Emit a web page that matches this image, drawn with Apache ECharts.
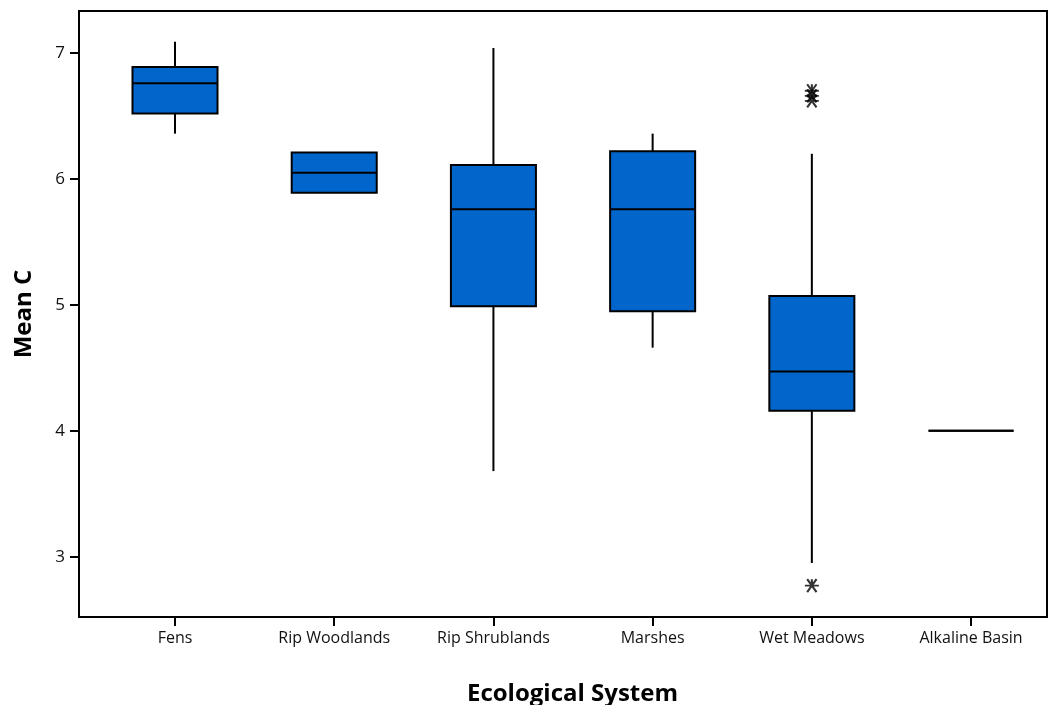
<!DOCTYPE html>
<html>
<head>
<meta charset="utf-8">
<script src="https://cdn.jsdelivr.net/npm/echarts@6/dist/echarts.min.js"></script>
<style>
  html, body { margin: 0; padding: 0; background: #fff; }
  #main { width: 1059px; height: 705px; }
</style>
</head>
<body>
<div id="main"></div>
<script>
// categories and box statistics
const categories = ['Fens', 'Rip Woodlands', 'Rip Shrublands', 'Marshes', 'Wet Meadows', 'Alkaline Basin'];
const whiskerLow = [6.36, 5.89, 3.68, 4.66, 2.95, 4.0];
const q1 = [6.52, 5.89, 4.99, 4.95, 4.16, 4.0];
const median = [6.76, 6.05, 5.76, 5.76, 4.47, 4.0];
const q3 = [6.89, 6.21, 6.11, 6.22, 5.07, 4.0];
const whiskerHigh = [7.09, 6.21, 7.04, 6.36, 6.20, 4.0];
// outliers: [category index, value]
const outliers = [[4, 6.70], [4, 6.66], [4, 6.62], [4, 2.77]];
const yTicks = [3, 4, 5, 6, 7];
const xTicks = categories.map((c, i) => i);

const boxData = categories.map((c, i) => [i, whiskerLow[i], q1[i], median[i], q3[i], whiskerHigh[i]]);

const chart = echarts.init(document.getElementById('main'));

function renderBox(params, api) {
  const x = api.value(0);
  const lo = api.value(1), b1 = api.value(2), med = api.value(3), b3 = api.value(4), hi = api.value(5);
  const half = api.size([1, 0])[0] * 0.267;
  const pLo = api.coord([x, lo]);
  const p1 = api.coord([x, b1]);
  const pm = api.coord([x, med]);
  const p3 = api.coord([x, b3]);
  const pHi = api.coord([x, hi]);
  const line = { stroke: '#000', lineWidth: 2 };
  const children = [];
  if (hi > b3) {
    children.push({ type: 'line', shape: { x1: pHi[0], y1: pHi[1], x2: p3[0], y2: p3[1] }, style: line });
  }
  if (lo < b1) {
    children.push({ type: 'line', shape: { x1: p1[0], y1: p1[1], x2: pLo[0], y2: pLo[1] }, style: line });
  }
  children.push({
    type: 'rect',
    shape: { x: p3[0] - half, y: p3[1], width: half * 2, height: p1[1] - p3[1] },
    style: { fill: '#0066cc', stroke: '#000', lineWidth: 2 }
  });
  children.push({ type: 'line', shape: { x1: pm[0] - half, y1: pm[1], x2: pm[0] + half, y2: pm[1] }, style: line });
  return { type: 'group', children: children };
}

chart.setOption({
  animation: false,
  grid: {
    left: 79, right: 12, top: 11, bottom: 88,
    containLabel: false,
    outerBoundsMode: 'none',
    show: true, borderColor: '#000', borderWidth: 2
  },
  xAxis: {
    type: 'value',
    min: -0.603,
    max: 5.477,
    splitLine: { show: false },
    axisLine: { onZero: false, lineStyle: { color: '#000', width: 2 } },
    axisTick: { customValues: xTicks, length: 9, lineStyle: { color: '#000', width: 2 } },
    axisLabel: {
      customValues: xTicks,
      margin: 13,
      color: '#111',
      fontFamily: 'Open Sans',
      fontSize: 16,
      formatter: function (v) { return categories[Math.round(v)]; }
    },
    name: 'Ecological System',
    nameLocation: 'middle',
    nameGap: 65,
    nameTextStyle: { fontFamily: 'Open Sans', fontWeight: 'bold', fontSize: 24, color: '#000', padding: [0, 0, 0, 19] }
  },
  yAxis: {
    type: 'value',
    min: 2.521,
    max: 7.334,
    splitLine: { show: false },
    axisLine: { show: true, onZero: false, lineStyle: { color: '#000', width: 2 } },
    axisTick: { show: true, customValues: yTicks, length: 9, lineStyle: { color: '#000', width: 2 } },
    axisLabel: {
      customValues: yTicks,
      margin: 14,
      color: '#111',
      fontFamily: 'Open Sans',
      fontSize: 17
    },
    name: 'Mean C',
    nameLocation: 'middle',
    nameGap: 43,
    nameTextStyle: { fontFamily: 'Open Sans', fontWeight: 'bold', fontSize: 24, color: '#000' }
  },
  series: [
    {
      type: 'custom',
      renderItem: renderBox,
      data: boxData,
      encode: { x: 0, y: [1, 2, 3, 4, 5] }
    },
    {
      type: 'scatter',
      data: outliers,
      symbol: 'path://M0,6 L12,6 M2,0 L10,12 M10,0 L2,12 M6,0 L6,6',
      symbolSize: [14, 13],
      itemStyle: { color: 'none', borderColor: '#000', borderWidth: 2 }
    }
  ]
});
</script>
</body>
</html>
